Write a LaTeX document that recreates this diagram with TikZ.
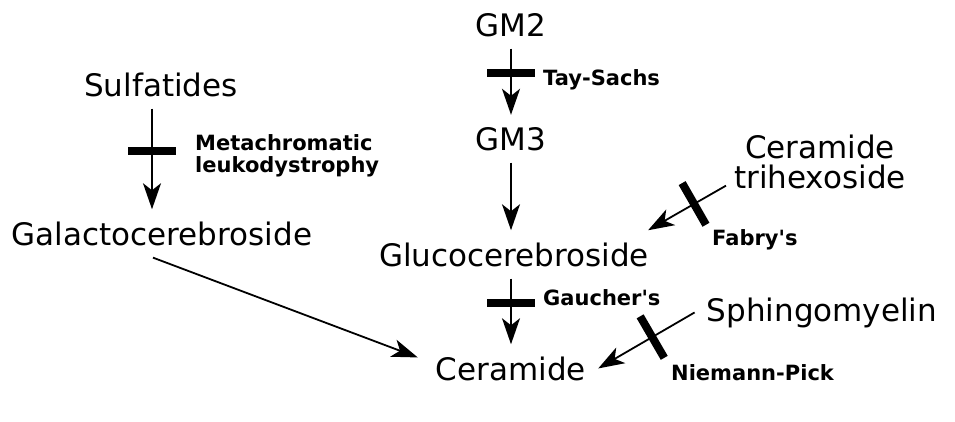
\documentclass[tikz,border=0pt]{standalone}
\usepackage{fontspec}
\setmainfont{DejaVu Sans}
\newfontfamily\diseasefont{DejaVu Sans}
\usetikzlibrary{arrows.meta,calc}

\begin{document}
\begin{tikzpicture}[x=1pt,y=-1pt,
	lipid/.style={font=\fontsize{31}{30}\selectfont, inner sep=12pt, anchor=base},
	disease/.style={font=\diseasefont\bfseries\fontsize{21}{22}\selectfont, inner sep=0pt, anchor=west, align=left},
	conv/.style={-{Stealth[length=26pt,width=18pt,inset=7pt]}, line width=1.8pt},
	block/.style={fill, inner sep=0pt, minimum width=8pt, minimum height=48pt, sloped},
]

	% frame
	\useasboundingbox (0,0) rectangle (955,421);

	% lipids
	\node[lipid] (gm2) at (511,36) {GM2};
	\node[lipid] (gm3) at (511,150) {GM3};
	\node[lipid] (sulf) at (161,96) {Sulfatides};
	\node[lipid] (galacto) at (162,245) {Galactocerebroside};
	\node[lipid] (gluco) at (514,266) {Glucocerebroside};
	\node[lipid] (cer) at (511,380) {Ceramide};
	\node[lipid, align=center, font=\fontsize{31}{30}\selectfont] (trihex) at (820,188) {Ceramide\\trihexoside};
	\node[lipid] (sphingo) at (822,321) {Sphingomyelin};

	% conversions
	\draw[conv] (gm3.south) -- (gm3.south |- gluco.north);
	\draw[conv] ([xshift=-9pt]galacto.south) -- ([shift={(-6pt,11pt)}]cer.west);

	% blocked conversions
	\foreach \from/\to/\dx/\where in {gm2/gm3/0/0.37, sulf/galacto/-9/0.42, gluco/cer/-3/0.37} {
		\draw[conv] ([xshift=\dx pt]\from.south) -- ([xshift=\dx pt]\from.south |- \to.north)
			node[pos=\where, block] {};
	}
	\draw[conv] ([shift={(4pt,15pt)}]trihex.south west) -- ([xshift=-13pt]gluco.north east)
		node[pos=0.41, block] {};
	\draw[conv] (sphingo.west) -- (cer.east) node[pos=0.44, block] {};

	% diseases
	\node[disease] (meta) at (195,156) {Metachromatic\\leukodystrophy};
	\node[disease] (tay) at (543,80) {Tay-Sachs};
	\node[disease] (fabry) at (712,240) {Fabry's};
	\node[disease] (gaucher) at (543,298) {Gaucher's};
	\node[disease] (niemann) at (671,373) {Niemann-Pick};

\end{tikzpicture}
\end{document}
